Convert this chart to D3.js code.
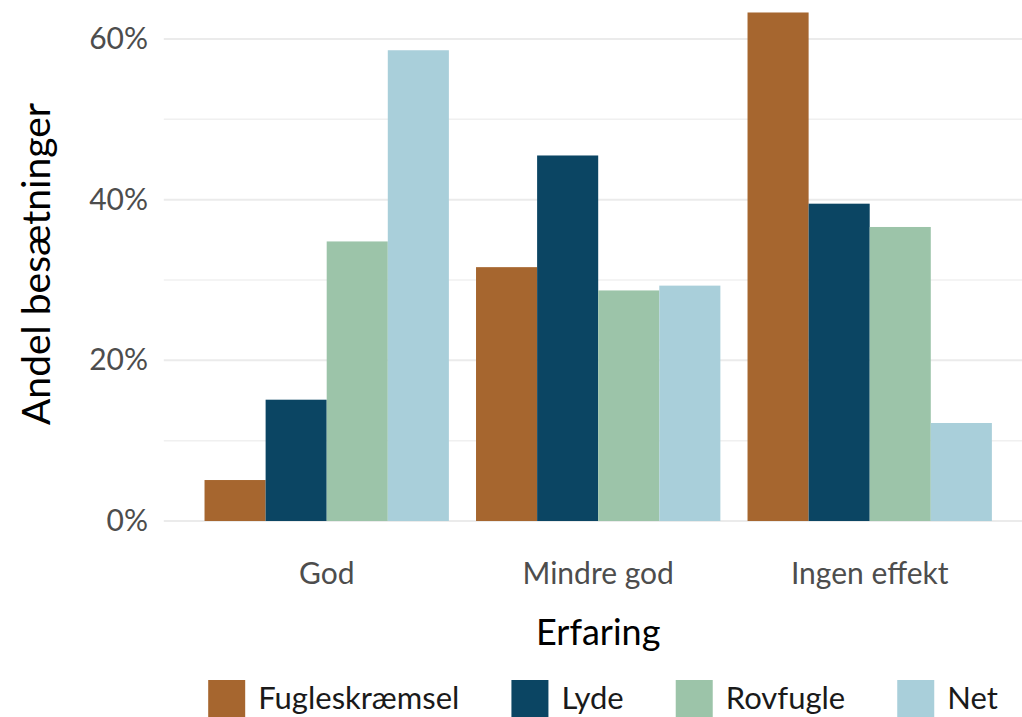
<!DOCTYPE html>
<html>
<head>
<meta charset="utf-8">
<script src="https://cdn.jsdelivr.net/npm/d3@7"></script>
<style>
	body { margin: 0; background: #fff; }
	text { font-family: Lato, "Open Sans", sans-serif; }
</style>
</head>
<body>
<div id="chartDiv"></div>
<script>
;(function() {

	// data (percent)
	var categories = ["God", "Mindre god", "Ingen effekt"];
	var seriesNames = ["Fugleskræmsel", "Lyde", "Rovfugle", "Net"];
	var fugleskraemsel = [5.1, 31.6, 63.3];
	var lyde = [15.1, 45.5, 39.5];
	var rovfugle = [34.8, 28.7, 36.6];
	var net = [58.6, 29.3, 12.2];
	var yTicks = [0, 20, 40, 60];
	var yMinorTicks = [10, 30, 50];

	var COLORS = ["#a6662f", "#0b4563", "#9cc4a9", "#a9cfda"];

	var width = 1022;
	var height = 717;
	var plot = { left: 163.8, right: 1032.6, zero: 521, top60: 39 };

	var seriesValues = [fugleskraemsel, lyde, rovfugle, net];
	var data = [];
	categories.forEach(function(c, i) {
		seriesNames.forEach(function(s, j) {
			data.push({ cat: c, series: s, value: seriesValues[j][i], idx: j });
		});
	});

	var svg = d3.select("#chartDiv").append("svg")
		.attr("width", width)
		.attr("height", height);

	var xScale = d3.scaleBand()
		.domain(categories)
		.range([plot.left, plot.right])
		.paddingInner(0.1)
		.paddingOuter(0.15);

	var xInner = d3.scaleBand()
		.domain(seriesNames)
		.range([0, xScale.bandwidth()]);

	var yScale = d3.scaleLinear()
		.domain([0, 60])
		.range([plot.zero, plot.top60]);

	// grid lines
	var grid = svg.append("g");
	grid.selectAll(".minor")
		.data(yMinorTicks)
		.enter().append("line")
			.attr("x1", plot.left).attr("x2", width)
			.attr("y1", d => yScale(d)).attr("y2", d => yScale(d))
			.attr("stroke", "#f0f0f0")
			.attr("stroke-width", 1.5);
	grid.selectAll(".major")
		.data(yTicks)
		.enter().append("line")
			.attr("x1", plot.left).attr("x2", width)
			.attr("y1", d => yScale(d)).attr("y2", d => yScale(d))
			.attr("stroke", "#ebebeb")
			.attr("stroke-width", 2);

	// bars
	svg.append("g").selectAll("rect")
		.data(data)
		.enter().append("rect")
			.attr("x", d => xScale(d.cat) + xInner(d.series))
			.attr("y", d => yScale(d.value))
			.attr("width", xInner.bandwidth())
			.attr("height", d => yScale(0) - yScale(d.value))
			.attr("fill", d => COLORS[d.idx]);

	// y axis
	var yAxis = d3.axisLeft(yScale)
		.tickValues(yTicks)
		.tickSize(0)
		.tickPadding(0)
		.tickFormat(d => d + "%");

	var yAxisG = svg.append("g")
		.attr("transform", "translate(148,0)")
		.call(yAxis);
	yAxisG.select(".domain").remove();
	yAxisG.selectAll("text")
		.attr("fill", "#4d4d4d")
		.style("font-size", "30px")
		.style("font-family", "Lato, sans-serif");

	// x axis
	var xAxis = d3.axisBottom(xScale)
		.tickSize(0)
		.tickPadding(0);

	var xAxisG = svg.append("g")
		.attr("transform", "translate(0,554)")
		.call(xAxis);
	xAxisG.select(".domain").remove();
	xAxisG.selectAll("text")
		.attr("fill", "#4d4d4d")
		.attr("dy", "1em")
		.style("font-size", "30px")
		.style("font-family", "Lato, sans-serif");

	// axis titles
	svg.append("text")
		.attr("text-anchor", "middle")
		.attr("transform", "translate(" + ((plot.left + plot.right) / 2) + ",645)")
		.style("font-size", "36px")
		.attr("fill", "#000")
		.text("Erfaring");

	svg.append("text")
		.attr("text-anchor", "middle")
		.attr("transform", "translate(50,264) rotate(-90)")
		.style("font-size", "39px")
		.attr("fill", "#000")
		.text("Andel besætninger");

	// legend
	var keySize = 37, keyGap = 13, itemGap = 52;
	var legend = svg.append("g");
	var items = legend.selectAll("g")
		.data(seriesNames)
		.enter().append("g");
	items.append("rect")
		.attr("width", keySize)
		.attr("height", keySize)
		.attr("y", 680)
		.attr("fill", (d, i) => COLORS[i]);
	items.append("text")
		.attr("x", keySize + keyGap)
		.attr("y", 709)
		.style("font-size", "31px")
		.attr("fill", "#1a1a1a")
		.text(d => d);

	var widths = [];
	items.select("text").each(function() { widths.push(this.getComputedTextLength()); });
	var total = d3.sum(widths) + seriesNames.length * (keySize + keyGap) + (seriesNames.length - 1) * itemGap;
	var xPos = 603 - total / 2;
	items.attr("transform", function(d, i) {
		var t = "translate(" + xPos + ",0)";
		xPos += keySize + keyGap + widths[i] + itemGap;
		return t;
	});

})();
</script>
</body>
</html>
